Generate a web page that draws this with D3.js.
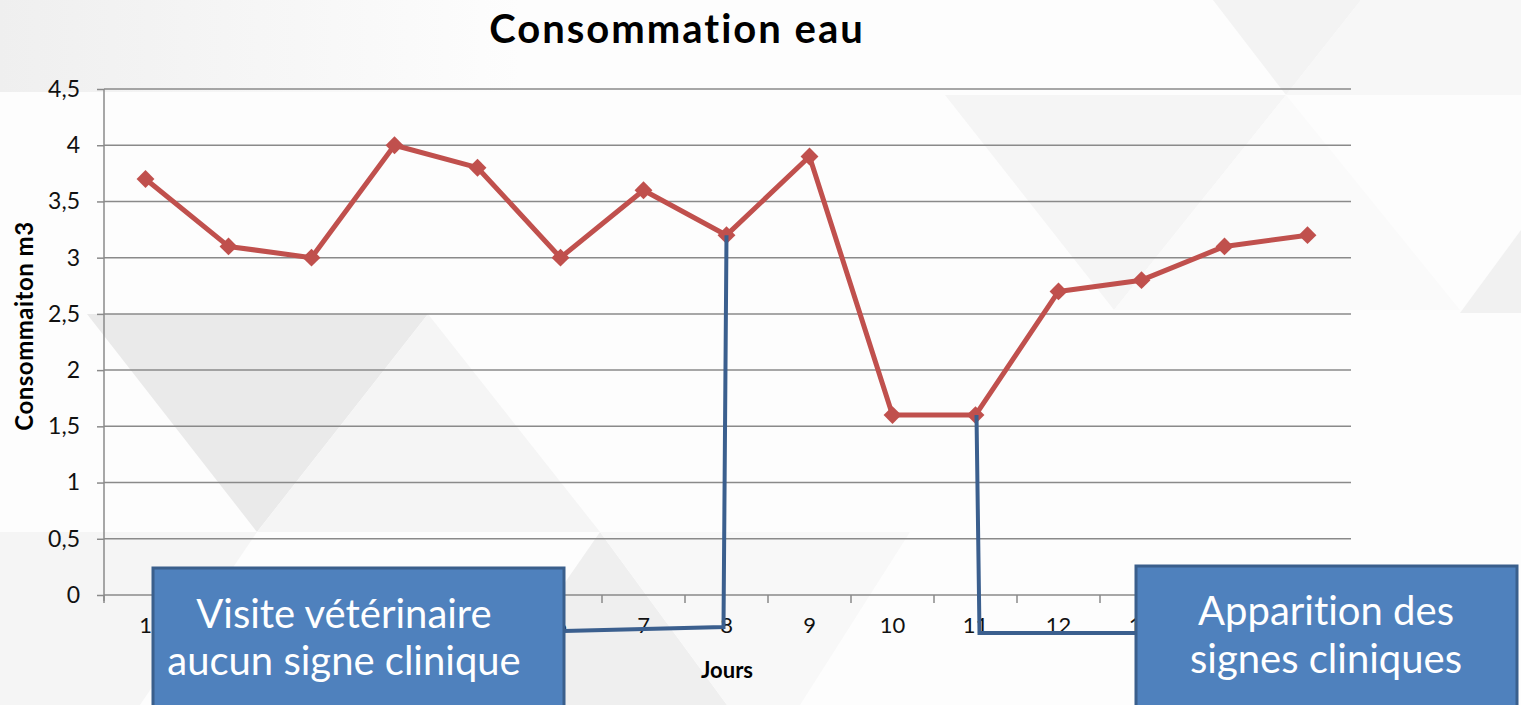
<!DOCTYPE html>
<html>
<head>
<meta charset="utf-8">
<script src="https://cdn.jsdelivr.net/npm/d3@7"></script>
<style>
  body { margin: 0; background: #fdfdfd; }
  svg { display: block; }
  text { font-variant-ligatures: none; }
</style>
</head>
<body>
<div id="chart"></div>
<script>
// data
var days = ["1", "2", "3", "4", "5", "6", "7", "8", "9", "10", "11", "12", "13", "14", "15"];
var conso = [3.7, 3.1, 3.0, 4.0, 3.8, 3.0, 3.6, 3.2, 3.9, 1.6, 1.6, 2.7, 2.8, 3.1, 3.2];
var yTicks = [0, 0.5, 1, 1.5, 2, 2.5, 3, 3.5, 4, 4.5];
var calloutDays = ["8", "11"];
var calloutTexts = [["Visite vétérinaire", "aucun signe clinique"], ["Apparition des", "signes cliniques"]];

var W = 1521, H = 705;
var font = "Lato, 'Open Sans', sans-serif";

var svg = d3.select("#chart").append("svg").attr("width", W).attr("height", H);

// slide background: soft grey triangles
var bg = svg.append("g");
var defs = svg.append("defs");
var grad = defs.append("linearGradient").attr("id", "topfade").attr("x1", 0).attr("x2", 1).attr("y1", 0).attr("y2", 0);
grad.append("stop").attr("offset", "0%").attr("stop-color", "#efefef");
grad.append("stop").attr("offset", "100%").attr("stop-color", "#fdfdfd");
bg.append("rect").attr("x", 0).attr("y", 0).attr("width", 520).attr("height", 92).attr("fill", "url(#topfade)");
var shapes = [
    {p: [[87, 314], [428, 314], [257, 532]], c: "#eaeaea"},
    {p: [[428, 314], [600, 532], [257, 532]], c: "#f5f5f5"},
    {p: [[0, 532], [257, 532], [140, 705], [0, 705]], c: "#f5f5f5"},
    {p: [[600, 532], [727, 705], [480, 705]], c: "#efefef"},
    {p: [[600, 532], [910, 532], [800, 705], [727, 705]], c: "#f8f8f8"},
    {p: [[945, 95], [1286, 95], [1114, 310]], c: "#f5f5f5"},
    {p: [[1286, 95], [1460, 310], [1114, 310]], c: "#fafafa"},
    {p: [[1213, 0], [1361, 0], [1286, 95]], c: "#f3f3f3"},
    {p: [[1361, 0], [1521, 0], [1521, 95], [1286, 95]], c: "#f7f7f7"},
    {p: [[1521, 230], [1521, 313], [1460, 313]], c: "#f1f1f1"}
];
bg.selectAll("polygon").data(shapes).enter().append("polygon")
    .attr("points", function (d) { return d.p.map(function (q) { return q.join(","); }).join(" "); })
    .attr("fill", function (d) { return d.c; });

// scales
var x = d3.scaleBand().domain(days).range([104, 1349]).padding(0);
var y = d3.scaleLinear().domain([0, 4.5]).range([595, 89]);
function cx(d) { return x(d) + x.bandwidth() / 2; }
var fmt = function (v) { return String(v).replace(".", ","); };

// horizontal grid
svg.append("g").selectAll("line").data(yTicks).enter().append("line")
    .attr("x1", 104).attr("x2", 1351)
    .attr("y1", function (d) { return y(d); }).attr("y2", function (d) { return y(d); })
    .attr("stroke", "#8a8a8a").attr("stroke-width", 1.5);

// y axis
var yAxis = d3.axisLeft(y).tickValues(yTicks).tickFormat(fmt).tickSize(7).tickPadding(17);
var gy = svg.append("g").attr("transform", "translate(104,0)").call(yAxis);
gy.select(".domain").attr("stroke", "#8a8a8a").attr("stroke-width", 1.5).attr("d", "M0,89V601");
gy.selectAll(".tick line").attr("stroke", "#8a8a8a").attr("stroke-width", 1.5);
gy.selectAll("text").attr("font-family", font).attr("font-size", 23).attr("fill", "#111");

// x axis: labels at centers, ticks between categories
var xAxis = d3.axisBottom(x).tickSize(0).tickPadding(22);
var gx = svg.append("g").attr("transform", "translate(0,595)").call(xAxis);
gx.select(".domain").remove();
gx.selectAll("text").attr("font-family", font).attr("font-size", 22).attr("fill", "#111");
var bounds = days.map(function (d) { return x(d); }).concat([x(days[days.length - 1]) + x.bandwidth()]);
svg.append("g").selectAll("line").data(bounds).enter().append("line")
    .attr("x1", function (d) { return d; }).attr("x2", function (d) { return d; })
    .attr("y1", 595).attr("y2", 603)
    .attr("stroke", "#8a8a8a").attr("stroke-width", 1.5);

// titles
svg.append("text").text("Consommation eau").attr("x", 677).attr("y", 43)
    .attr("text-anchor", "middle").attr("font-family", font).attr("font-weight", "bold")
    .attr("font-size", 40).attr("letter-spacing", 2).attr("fill", "#000");
svg.append("text").text("Jours").attr("x", 727).attr("y", 678)
    .attr("text-anchor", "middle").attr("font-family", font).attr("font-weight", "bold").attr("font-size", 22).attr("fill", "#000");
svg.append("text").text("Consommaiton m3").attr("transform", "translate(33,326) rotate(-90)")
    .attr("text-anchor", "middle").attr("font-family", font).attr("font-weight", "bold")
    .attr("font-size", 24).attr("letter-spacing", 0.5).attr("fill", "#000");

// series line + diamond markers
var line = d3.line().x(function (d, i) { return cx(days[i]); }).y(function (d) { return y(d); });
svg.append("path").datum(conso).attr("d", line)
    .attr("fill", "none").attr("stroke", "#c0504d").attr("stroke-width", 5).attr("stroke-linejoin", "round");
var diamond = d3.symbol().type(d3.symbolSquare).size(160);
svg.append("g").selectAll("path").data(conso).enter().append("path")
    .attr("d", diamond)
    .attr("transform", function (d, i) { return "translate(" + cx(days[i]) + "," + y(d) + ") rotate(45)"; })
    .attr("fill", "#c0504d");

// callout connectors
var boxes = [
    {x: 153, y: 568, w: 411, h: 150, ly: 631, textX: 344, base: [628, 675]},
    {x: 1136, y: 566, w: 381, h: 150, ly: 633, textX: 1326, base: [625, 673]}
];
calloutDays.forEach(function (day, k) {
    var idx = days.indexOf(day);
    var px = cx(day), py = y(conso[idx]);
    var b = boxes[k];
    var pts = k === 0
        ? [[px, py], [px - 3, b.ly - 4], [b.x + b.w, b.ly]]
        : [[px + 1, py], [px + 4, b.ly], [b.x, b.ly]];
    svg.append("path").attr("d", d3.line()(pts))
        .attr("fill", "none").attr("stroke", "#3b5f8e").attr("stroke-width", 4).attr("stroke-linejoin", "miter");
});

// callout boxes
boxes.forEach(function (b, k) {
    var g = svg.append("g");
    g.append("rect").attr("x", b.x).attr("y", b.y).attr("width", b.w).attr("height", b.h)
        .attr("fill", "#4f81bd").attr("stroke", "#3a5f8c").attr("stroke-width", 3);
    calloutTexts[k].forEach(function (t, j) {
        g.append("text").text(t).attr("x", b.textX).attr("y", b.base[j])
            .attr("text-anchor", "middle").attr("font-family", font).attr("font-size", 40).attr("fill", "#fff");
    });
});
</script>
</body>
</html>
